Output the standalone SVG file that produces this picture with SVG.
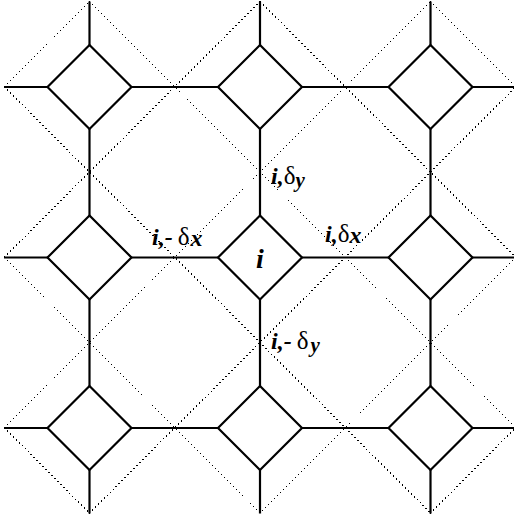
<svg xmlns="http://www.w3.org/2000/svg" width="514" height="516" viewBox="0 0 514 516">
<style>
.bg{fill:#fff}
.node{fill:#fff;stroke:#000;stroke-width:2.2}
.edge{stroke:#000;stroke-width:2.2;fill:none}
.dot{stroke:#000;stroke-width:1.3;stroke-dasharray:1.3 2.9;fill:none;shape-rendering:crispEdges}
.lbl{font-family:"Liberation Serif","Times New Roman",serif;font-size:24px;font-weight:bold;font-style:italic;fill:#000}
.g{font-style:normal;font-weight:normal;font-size:25px}
.s{font-size:21px}
</style>
<rect class="bg" x="0" y="0" width="514" height="516"/>
<g id="dotted">
<line class="dot" x1="4" y1="87" x2="89.5" y2="1.5"/>
<line class="dot" x1="4" y1="257.5" x2="260" y2="1.5"/>
<line class="dot" x1="4" y1="428" x2="430.5" y2="1.5"/>
<line class="dot" x1="89" y1="513.5" x2="515.5" y2="87"/>
<line class="dot" x1="259.5" y1="513.5" x2="515.5" y2="257.5"/>
<line class="dot" x1="430" y1="513.5" x2="515.5" y2="428"/>
<line class="dot" x1="89.5" y1="1.5" x2="515.5" y2="427.5"/>
<line class="dot" x1="260" y1="1.5" x2="515.5" y2="257"/>
<line class="dot" x1="430.5" y1="1.5" x2="515.5" y2="86.5"/>
<line class="dot" x1="4" y1="86.5" x2="431" y2="513.5"/>
<line class="dot" x1="4" y1="257" x2="260.5" y2="513.5"/>
<line class="dot" x1="4" y1="427.5" x2="90" y2="513.5"/>
</g>
<g id="connectors">
<line class="edge" x1="4" y1="87" x2="515.5" y2="87"/>
<line class="edge" x1="4" y1="257.5" x2="515.5" y2="257.5"/>
<line class="edge" x1="4" y1="428" x2="515.5" y2="428"/>
<line class="edge" x1="89.5" y1="1.5" x2="89.5" y2="513.5"/>
<line class="edge" x1="260" y1="1.5" x2="260" y2="513.5"/>
<line class="edge" x1="430.5" y1="1.5" x2="430.5" y2="513.5"/>
</g>
<g id="n00"><polygon class="node" points="89.5,45 131.5,87 89.5,129 47.5,87"/></g>
<g id="n10"><polygon class="node" points="260,45 302,87 260,129 218,87"/></g>
<g id="n20"><polygon class="node" points="430.5,45 472.5,87 430.5,129 388.5,87"/></g>
<g id="n01"><polygon class="node" points="89.5,215.5 131.5,257.5 89.5,299.5 47.5,257.5"/></g>
<g id="n11"><polygon class="node" points="260,215.5 302,257.5 260,299.5 218,257.5"/>
<text class="lbl" x="260" y="268" text-anchor="middle" style="font-size:28px">i</text></g>
<g id="n21"><polygon class="node" points="430.5,215.5 472.5,257.5 430.5,299.5 388.5,257.5"/></g>
<g id="n02"><polygon class="node" points="89.5,386 131.5,428 89.5,470 47.5,428"/></g>
<g id="n12"><polygon class="node" points="260,386 302,428 260,470 218,428"/></g>
<g id="n22"><polygon class="node" points="430.5,386 472.5,428 430.5,470 388.5,428"/></g>
<g id="labels">
<text class="lbl" x="271" y="184">i,<tspan class="g">δ</tspan><tspan class="s" dy="3">y</tspan></text>
<text class="lbl" x="152" y="245">i,-<tspan class="g" dx="5">δ</tspan><tspan dx="1" dy="1">x</tspan></text>
<text class="lbl" x="325" y="242">i,<tspan class="g">δ</tspan><tspan dy="1">x</tspan></text>
<text class="lbl" x="271" y="349">i,-<tspan class="g" dx="5">δ</tspan><tspan class="s" dx="2" dy="3">y</tspan></text>
</g>
</svg>
